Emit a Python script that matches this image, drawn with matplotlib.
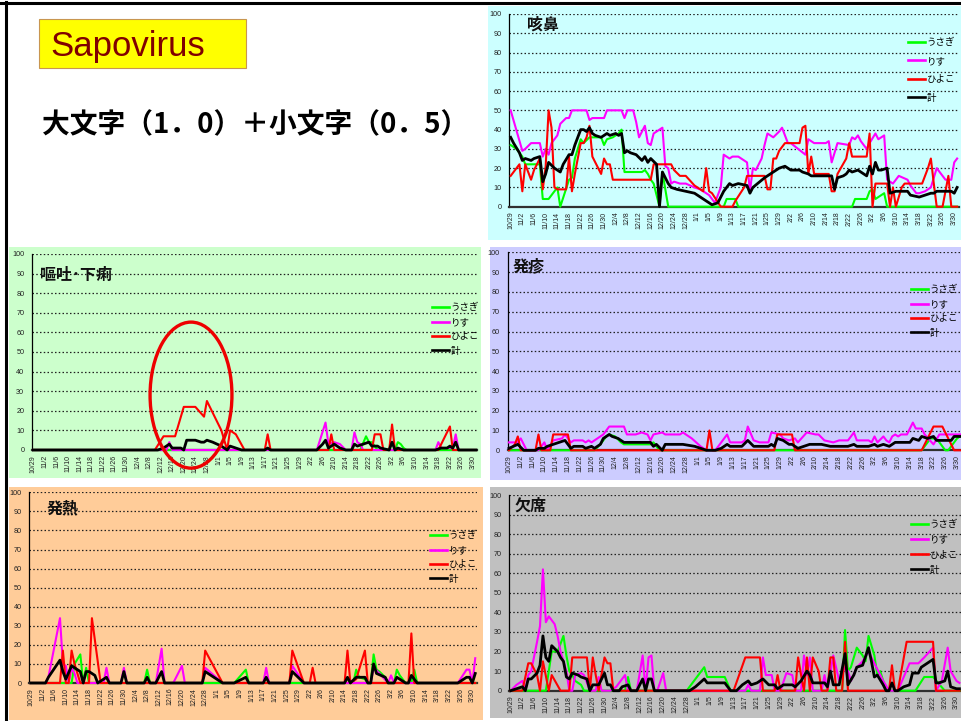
import matplotlib
matplotlib.use("Agg")
import matplotlib.pyplot as plt
from matplotlib.patches import Rectangle, Ellipse
from matplotlib.lines import Line2D

plt.rcParams['font.family'] = ['Noto Sans CJK JP', 'DejaVu Sans']

# ---------------- data ----------------
N_DAYS = 154  # 10/29 .. 3/31, day index 0 = 10/29
TICK_STEP = 4
TICK_LABELS = ["10/29", "11/2", "11/6", "11/10", "11/14", "11/18", "11/22", "11/26",
               "11/30", "12/4", "12/8", "12/12", "12/16", "12/20", "12/24", "12/28",
               "1/1", "1/5", "1/9", "1/13", "1/17", "1/21", "1/25", "1/29", "2/2",
               "2/6", "2/10", "2/14", "2/18", "2/22", "2/26", "3/2", "3/6", "3/10",
               "3/14", "3/18", "3/22", "3/26", "3/30"]
Y_TICKS = [0, 10, 20, 30, 40, 50, 60, 70, 80, 90, 100]
SERIES_NAMES = ["うさぎ", "りす", "ひよこ", "計"]

# (day index, value)
COUGH_USAGI = [(0,32),(2,30),(4,26),(5,22),(10,22),(11,4),(13,4),(16,10),(17,0),(20,14),(21,15),(22,25),
               (24,35),(25,33),(27,36),(31,36),(32,32),(33,35),(35,36),(37,38),(38,40),(39,18),(45,18),
               (46,19),(47,17),(48,14),(49,12),(51,0),(52,18),(54,0),(73,0),(74,4),(77,4),(78,0),(117,0),
               (118,4),(122,4),(123,8),(124,9),(125,4),(128,7),(129,0),(153,0)]
COUGH_RISU = [(0,50),(4,29),(5,30),(7,33),(10,33),(11,26),(12,30),(13,27),(14,33),(16,37),(17,43),(19,46),
              (20,46),(21,50),(26,50),(27,45),(28,46),(32,46),(33,50),(38,50),(39,46),(40,50),(42,50),
              (43,44),(44,36),(46,42),(47,33),(48,32),(49,38),(51,40),(52,41),(53,21),(54,20),(55,12),
              (56,13),(58,12),(60,12),(63,10),(65,9),(67,7),(68,6),(69,4),(70,2),(72,10),(73,27),(75,25),
              (76,26),(78,26),(80,24),(81,23),(82,8),(83,20),(84,19),(86,25),(87,32),(88,38),(90,36),
              (92,39),(93,41),(95,33),(96,33),(101,27),(102,35),(103,34),(104,33),(108,33),(109,34),
              (110,23),(112,33),(116,32),(117,36),(118,35),(119,37),(120,34),(122,30),(123,33),(125,38),
              (126,35),(128,37),(129,14),(131,12),(133,16),(136,14),(137,11),(139,7),(140,7),(142,8),
              (144,10),(146,20),(147,18),(149,14),(151,14),(152,23),(153,25)]
COUGH_HIYOKO = [(0,16),(3,22),(4,8),(5,22),(7,14),(8,19),(10,25),(11,9),(12,21),(13,50),(14,41),(15,10),
                (16,9),(19,9),(20,26),(21,8),(22,17),(24,33),(25,33),(26,36),(27,42),(28,26),(31,17),
                (32,25),(33,22),(34,22),(35,14),(48,14),(49,22),(55,22),(56,19),(58,16),(60,16),(63,11),
                (66,8),(67,20),(68,8),(69,7),(72,0),(76,0),(77,3),(80,10),(81,16),(87,16),(88,9),(89,9),
                (90,25),(91,25),(92,29),(94,33),(99,33),(100,41),(101,42),(102,17),(103,26),(104,17),
                (109,17),(110,8),(111,8),(112,17),(115,25),(116,33),(117,26),(122,26),(123,38),(124,0),
                (125,12),(129,12),(130,0),(131,10),(132,0),(134,10),(135,12),(141,12),(143,20),(144,25),
                (145,12),(146,0),(148,0),(150,16),(151,0),(153,0)]
COUGH_TOTAL = [(0,36),(1,33),(3,28),(4,24),(5,25),(7,24),(8,25),(10,26),(11,13),(12,17),(13,23),(15,20),
               (17,18),(18,22),(20,27),(21,27),(22,32),(24,40),(25,40),(26,39),(27,41),(28,38),(29,37),
               (31,36),(32,37),(33,38),(34,37),(36,38),(37,37),(38,38),(39,28),(40,29),(41,28),(43,27),
               (45,24),(46,26),(47,23),(48,25),(50,22),(51,0),(52,18),(54,12),(55,10),(57,9),(60,8),
               (63,7),(65,5),(67,3),(69,1),(71,2),(72,5),(73,8),(75,12),(76,11),(78,12),(81,11),(82,7),
               (83,10),(87,15),(89,17),(91,19),(92,20),(94,21),(96,19),(99,19),(100,18),(102,17),(103,16),
               (110,16),(111,9),(112,15),(114,16),(115,17),(116,19),(117,18),(119,19),(122,16),(123,21),
               (124,17),(125,23),(126,19),(127,19),(129,20),(130,7),(132,8),(136,8),(137,6),(140,5),
               (142,6),(144,7),(145,7),(146,8),(151,8),(152,7),(153,10)]

VOMIT_USAGI = [(0,0),(113,0),(115,7),(116,4),(117,4),(119,0),(125,0),(126,4),(127,3),(128,1),(129,0),(153,0)]
VOMIT_RISU = [(0,0),(46,0),(47,4),(48,0),(98,0),(101,14),(102,3),(104,4),(106,3),(108,0),(110,0),(111,9),
              (112,4),(113,3),(114,0),(139,0),(140,4),(141,1),(145,1),(146,8),(147,0),(153,0)]
VOMIT_HIYOKO = [(0,0),(42,0),(45,7),(49,7),(52,22),(56,22),(59,17),(60,25),(62,19),(65,10),(67,0),(68,10),
                (70,8),(73,0),(80,0),(81,8),(82,0),(102,0),(103,8),(104,0),(117,0),(118,8),(120,8),(121,0),
                (123,0),(124,13),(125,0),(140,0),(144,12),(145,0),(153,0)]
VOMIT_TOTAL = [(0,0),(43,0),(45,1),(47,3),(48,1),(51,1),(52,0),(53,5),(56,5),(58,4),(59,4),(60,5),(62,4),
               (65,2),(67,0),(68,2),(70,1),(72,0),(80,0),(81,1),(82,0),(98,0),(100,3),(101,5),(102,1),
               (104,3),(106,1),(108,0),(110,0),(111,3),(112,2),(114,3),(116,4),(117,2),(119,2),(120,1),
               (123,0),(124,4),(125,0),(126,1),(128,0),(139,0),(141,1),(143,1),(144,2),(145,1),(146,4),
               (147,0),(153,0)]

RASH_USAGI = [(0,0),(29,0),(31,3),(33,7),(34,8),(36,7),(38,4),(39,3),(48,3),(49,4),(50,2),(51,0),(140,0),
              (143,6),(145,6),(147,2),(148,0),(149,0),(152,6),(153,7)]
RASH_RISU = [(0,4),(3,4),(4,6),(5,3),(6,0),(10,0),(12,4),(13,0),(15,5),(18,6),(19,8),(21,4),(22,5),(25,5),
             (26,4),(27,5),(28,4),(30,6),(32,8),(34,12),(39,12),(40,8),(43,8),(45,9),(47,8),(48,5),(49,8),
             (52,9),(53,8),(58,8),(59,9),(62,6),(65,2),(67,0),(70,0),(72,4),(74,8),(75,4),(79,4),(80,5),
             (81,12),(83,5),(85,4),(88,4),(89,9),(92,8),(93,6),(95,5),(97,6),(98,4),(101,9),(104,8),
             (105,8),(107,5),(110,4),(112,5),(115,5),(117,9),(118,5),(122,5),(123,4),(124,7),(125,4),
             (127,7),(128,5),(129,4),(130,7),(131,8),(132,7),(133,8),(135,8),(137,14),(138,11),(140,11),
             (141,8),(144,3),(146,8),(153,8)]
RASH_HIYOKO = [(0,0),(2,3),(3,7),(4,0),(9,0),(10,8),(11,0),(14,0),(15,8),(20,8),(21,0),(67,0),(68,10),
               (69,0),(90,0),(91,8),(96,8),(97,0),(140,0),(144,12),(147,12),(151,0),(153,0)]
RASH_TOTAL = [(0,1),(3,3),(5,0),(9,0),(10,1),(12,1),(13,2),(15,3),(17,4),(19,5),(21,1),(22,2),(25,2),
              (26,1),(28,2),(29,1),(31,3),(32,6),(34,8),(35,7),(37,6),(39,4),(48,4),(49,2),(50,3),(52,0),
              (53,3),(59,3),(63,2),(67,0),(70,0),(72,1),(74,3),(75,2),(79,2),(81,5),(83,2),(88,2),(89,3),
              (90,2),(91,6),(93,5),(95,3),(96,3),(98,1),(100,2),(102,3),(106,3),(109,2),(115,2),(117,3),
              (118,2),(122,2),(124,3),(125,2),(127,3),(129,2),(131,4),(136,4),(137,6),(139,5),(140,7),
              (142,6),(144,7),(145,5),(150,5),(151,7),(153,7)]

FEVER_USAGI = [(0,0),(14,0),(15,10),(17,15),(18,0),(19,8),(20,0),(39,0),(40,7),(41,0),(70,0),(74,7),
               (75,0),(111,0),(112,7),(113,3),(115,2),(116,0),(117,0),(118,15),(119,7),(120,6),(122,3),
               (123,0),(125,0),(126,7),(127,4),(129,0),(131,0),(132,7),(133,0),(153,0)]
FEVER_RISU = [(0,0),(5,0),(6,3),(10,34),(11,10),(12,9),(13,0),(14,8),(15,5),(16,0),(25,0),(26,8),(27,0),
              (31,0),(32,8),(33,0),(43,0),(45,18),(46,0),(49,0),(52,9),(53,0),(59,0),(60,8),(66,0),
              (80,0),(81,8),(82,0),(89,0),(90,9),(94,0),(117,0),(118,8),(120,5),(123,0),(124,4),(125,0),
              (147,0),(150,7),(151,7),(152,0),(153,13)]
FEVER_HIYOKO = [(0,0),(10,0),(11,17),(12,0),(13,0),(14,17),(15,10),(17,0),(20,0),(21,34),(24,0),(59,0),
                (60,17),(66,0),(89,0),(90,17),(94,0),(96,0),(97,8),(98,0),(108,0),(109,17),(110,0),
                (112,2),(115,17),(116,0),(130,0),(131,26),(132,0),(153,0)]
FEVER_TOTAL = [(0,0),(5,0),(6,3),(10,12),(11,6),(12,2),(14,9),(15,8),(16,7),(17,6),(18,0),(19,6),(20,6),
               (22,4),(23,0),(25,2),(26,3),(27,0),(31,0),(32,6),(33,0),(39,0),(40,3),(41,0),(43,0),(45,6),
               (46,0),(59,0),(60,6),(66,0),(70,0),(74,3),(75,0),(80,0),(81,3),(82,0),(89,0),(90,6),(94,0),
               (108,0),(109,3),(110,0),(112,3),(115,3),(116,0),(117,0),(118,10),(119,5),(122,3),(123,0),
               (125,0),(126,3),(129,0),(130,0),(131,4),(133,0),(147,0),(150,3),(151,3),(152,0),(153,5)]

ABSENT_USAGI = [(0,0),(12,0),(14,20),(16,20),(18,28),(19,18),(20,10),(21,8),(22,5),(24,3),(25,0),(39,0),
                (40,7),(41,0),(60,0),(64,8),(66,12),(67,7),(73,7),(75,0),(113,0),(114,31),(115,10),
                (116,12),(118,22),(120,18),(121,15),(122,28),(124,18),(125,8),(126,10),(128,0),(138,0),
                (141,7),(144,7),(148,0),(153,0)]
ABSENT_RISU = [(0,0),(2,3),(4,5),(5,0),(6,8),(7,10),(9,25),(10,33),(11,62),(12,35),(13,38),(15,34),(16,28),
               (17,20),(19,10),(20,0),(21,0),(22,8),(24,9),(25,8),(27,0),(29,0),(30,7),(31,0),(34,0),(36,2),
               (37,4),(39,8),(40,0),(43,0),(45,18),(46,0),(47,17),(48,18),(49,0),(50,0),(52,9),(53,0),
               (80,0),(81,3),(82,0),(85,0),(86,17),(87,8),(89,8),(90,0),(92,0),(94,9),(96,8),(97,0),(99,0),
               (100,18),(101,8),(102,17),(103,0),(106,0),(107,8),(108,0),(110,18),(112,5),(114,12),
               (115,10),(116,5),(118,12),(120,15),(122,20),(124,14),(127,5),(129,0),(132,0),(136,14),
               (139,14),(141,17),(144,22),(145,0),(147,5),(149,22),(150,10),(152,5),(153,4)]
ABSENT_HIYOKO = [(0,0),(4,0),(6,14),(7,14),(9,8),(10,0),(11,15),(13,0),(14,8),(17,0),(20,0),(21,17),
                 (26,17),(27,0),(28,17),(29,8),(30,0),(32,17),(33,14),(34,14),(35,0),(76,0),(80,17),
                 (85,17),(86,0),(90,0),(91,8),(92,0),(97,0),(98,17),(99,8),(100,0),(101,17),(102,0),
                 (103,17),(105,10),(106,0),(108,0),(109,17),(110,17),(111,0),(113,0),(114,25),(115,0),
                 (129,0),(130,13),(131,0),(132,0),(135,25),(144,25),(145,0),(153,0)]
ABSENT_TOTAL = [(0,0),(2,1),(4,2),(5,0),(6,6),(7,6),(9,9),(10,13),(11,28),(12,17),(13,15),(14,23),(16,20),
                (17,17),(18,15),(19,7),(20,6),(21,9),(23,8),(24,7),(26,6),(27,0),(28,3),(30,3),(32,9),
                (33,3),(34,3),(35,0),(37,0),(38,2),(40,3),(41,0),(43,0),(45,6),(46,0),(47,6),(48,6),(49,0),
                (61,0),(63,2),(66,6),(67,4),(73,4),(75,0),(77,0),(79,3),(81,5),(82,3),(84,4),(86,6),(88,3),
                (90,3),(91,1),(93,3),(96,3),(97,2),(99,5),(101,10),(102,8),(103,4),(107,4),(108,2),(109,10),
                (110,3),(112,3),(114,19),(115,3),(117,8),(118,12),(120,13),(122,22),(123,15),(124,7),
                (125,8),(127,3),(128,0),(129,0),(130,4),(131,0),(132,0),(134,2),(136,3),(137,9),(139,9),
                (140,12),(143,15),(144,16),(145,4),(146,4),(148,5),(149,10),(150,2),(152,1),(153,1)]

# ---------------- styling / layout ----------------
W, H = 962, 721
fig = plt.figure(figsize=(W / 100, H / 100), dpi=100)
fig.patch.set_facecolor("white")

COLORS = ["#00FF00", "#FF00FF", "#FF0000", "#000000"]
WIDTHS = [1.5, 1.5, 1.5, 2.0]


def fx(px):
    return px / W


def fy(py):
    return 1 - py / H


def add_rect(x0, y0, x1, y1, color, z=-10, ec="none", lw=0):
    fig.add_artist(Rectangle((fx(x0), fy(y1)), fx(x1 - x0), (y1 - y0) / H,
                             transform=fig.transFigure, facecolor=color,
                             edgecolor=ec, linewidth=lw, zorder=z))


def draw_panel(bg, bg_color, ax_px, title, title_px, series, leg_px, leg_spacing):
    add_rect(*bg, bg_color)
    x0, x1, yt, yb = ax_px
    ax = fig.add_axes([fx(x0), fy(yb), (x1 - x0) / W, (yb - yt) / H])
    ax.set_facecolor("none")
    ax.set_xlim(-0.5, N_DAYS - 0.5)
    ax.set_ylim(0, 100)
    for pts, c, lw in zip(series, COLORS, WIDTHS):
        ax.plot([p[0] for p in pts], [p[1] for p in pts], color=c, lw=lw,
                clip_on=False, zorder=3, solid_joinstyle="round")
    ax.set_yticks(Y_TICKS)
    ax.set_yticklabels([str(v) for v in Y_TICKS])
    ax.set_xticks(list(range(0, N_DAYS, TICK_STEP)))
    ax.set_xticklabels(TICK_LABELS)
    ax.tick_params(axis="x", length=0, pad=3.5, labelsize=5, labelrotation=90,
                   labelcolor="#222222", labelfontfamily="Liberation Sans")
    ax.tick_params(axis="y", length=0, pad=5.5, labelsize=5.2,
                   labelcolor="#222222", labelfontfamily="Liberation Sans")
    ax.yaxis.grid(True, color="#202020", linestyle=(0, (1.2, 1.8)), linewidth=0.9)
    ax.set_axisbelow(True)
    for s in ("top", "right"):
        ax.spines[s].set_visible(False)
    ax.spines["left"].set_color("#000000")
    ax.spines["left"].set_linewidth(0.9)
    ax.spines["bottom"].set_color("#303030")
    ax.spines["bottom"].set_linewidth(1.6)
    fig.text(fx(title_px[0]), fy(title_px[1]), title, ha="left", va="center",
             fontsize=11.5, fontweight="bold", color="#111111")
    handles = [Line2D([], [], color=c, lw=1.9) for c in COLORS]
    ax.legend(handles, SERIES_NAMES, loc="upper left",
              bbox_to_anchor=(fx(leg_px[0]), fy(leg_px[1])), bbox_transform=fig.transFigure,
              frameon=False, fontsize=6.8, handlelength=1.85, handletextpad=0.15,
              labelspacing=leg_spacing, borderpad=0, borderaxespad=0)
    return ax


# slide frame
fig.add_artist(Line2D([0, 1], [fy(3), fy(3)], transform=fig.transFigure, color="black", lw=2.2, zorder=20))
fig.add_artist(Line2D([fx(6), fx(6)], [0, fy(2)], transform=fig.transFigure, color="black", lw=2.2, zorder=20))

# title block
add_rect(39, 19, 246, 68, "#FFFF00", z=1, ec="#C89650", lw=0.8)
fig.text(fx(50), fy(56), "Sapovirus", ha="left", va="baseline", fontsize=25,
         color="#800000", family="Liberation Sans", zorder=2)
fig.text(fx(42), fy(125), "大文字（1．0）＋小文字（0．5）", ha="left", va="center",
         fontsize=20, fontweight="bold", color="#000000")

draw_panel((488, 6, 962, 240), "#CCFFFF", (509.2, 958.6, 14, 206.7), "咳鼻", (527, 25),
           [COUGH_USAGI, COUGH_RISU, COUGH_HIYOKO, COUGH_TOTAL], (908, 38), 1.0)
ax2 = draw_panel((9, 247, 481, 478), "#CCFFCC", (31.9, 477.4, 254, 450), "嘔吐･下痢", (40, 275),
                 [VOMIT_USAGI, VOMIT_RISU, VOMIT_HIYOKO, VOMIT_TOTAL], (432, 303), 0.58)
draw_panel((490, 247, 962, 480), "#CCCCFF", (507.5, 961.5, 252.3, 450.3), "発疹", (513, 266),
           [RASH_USAGI, RASH_RISU, RASH_HIYOKO, RASH_TOTAL], (911, 285), 0.58)
draw_panel((9, 487, 483, 720), "#FFCC99", (29.5, 476.7, 492.3, 683), "発熱", (47, 508),
           [FEVER_USAGI, FEVER_RISU, FEVER_HIYOKO, FEVER_TOTAL], (430, 531), 0.58)
draw_panel((490, 487, 962, 718), "#C0C0C0", (509.2, 960.9, 495, 690.7), "欠席", (515, 506),
           [ABSENT_USAGI, ABSENT_RISU, ABSENT_HIYOKO, ABSENT_TOTAL], (911, 520), 0.65)

# highlight ellipse on the vomiting/diarrhoea panel
ax2.add_patch(Ellipse((54.5, 28), 28.3, 74.5, fill=False, edgecolor="#EE0000", lw=2.4,
                      clip_on=False, zorder=6))

fig.savefig("out.png", dpi=100)
